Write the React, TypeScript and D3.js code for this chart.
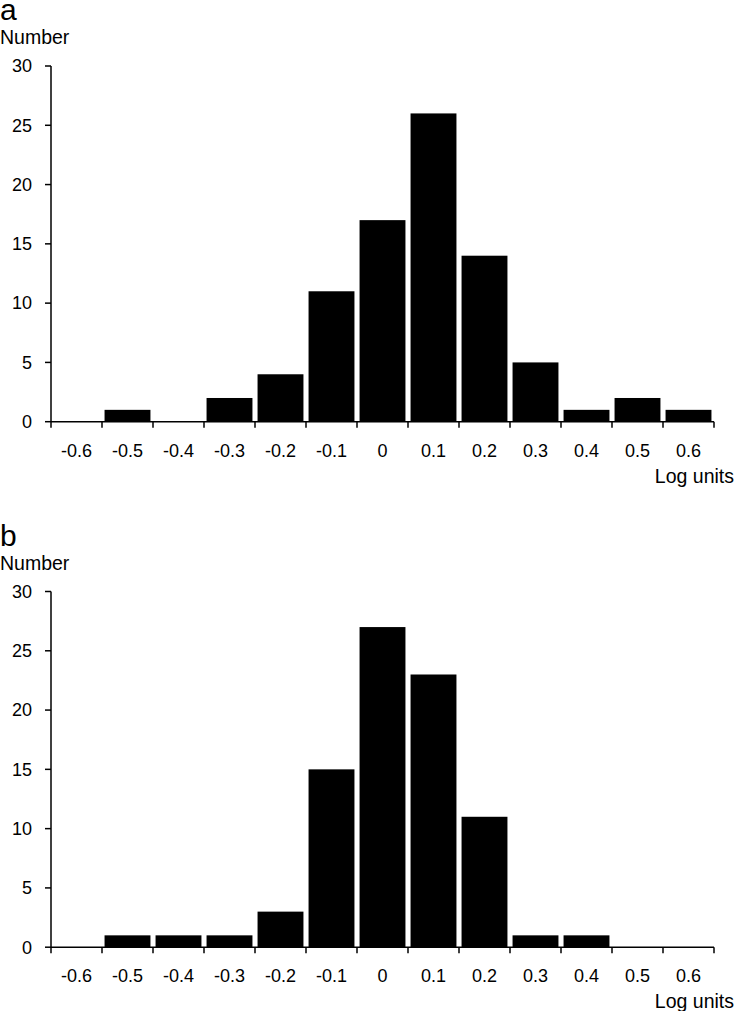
import React from "react";
import * as d3 from "d3";

const categories = ["-0.6", "-0.5", "-0.4", "-0.3", "-0.2", "-0.1", "0", "0.1", "0.2", "0.3", "0.4", "0.5", "0.6"];
const seriesA = [0, 1, 0, 2, 4, 11, 17, 26, 14, 5, 1, 2, 1];
const seriesB = [0, 1, 1, 1, 3, 15, 27, 23, 11, 1, 1, 0, 0];
const yTicks = [0, 5, 10, 15, 20, 25, 30];

const FONT = "'Liberation Sans', Arial, sans-serif";

function Panel({ letter, values, top }: { letter: string; values: number[]; top: number }) {
  const x0 = 51, x1 = 714;
  const yTop = top + 66, yBot = top + 421.7;
  const x = d3.scaleBand<string>().domain(categories).range([x0, x1]).paddingInner(0.1).paddingOuter(0.05);
  const step = (x1 - x0) / categories.length;
  const y = d3.scaleLinear().domain([0, 30]).range([yBot, yTop]);
  const bounds = d3.range(categories.length + 1).map((i) => x0 + i * step);
  return (
    <g>
      <text x={0} y={top + 20} fontSize={30} fontFamily={FONT}>{letter}</text>
      <text x={0} y={top + 44} fontSize={19.5} fontFamily={FONT}>Number</text>
      {values.map((v, i) =>
        v > 0 ? (
          <rect key={i} x={x(categories[i])} y={y(v)} width={x.bandwidth()} height={yBot - y(v)} fill="#000" />
        ) : null
      )}
      <line x1={x0} x2={x0} y1={yTop} y2={yBot} stroke="#000" strokeWidth={1.5} />
      <line x1={x0} x2={x1} y1={yBot} y2={yBot} stroke="#000" strokeWidth={1.5} />
      {yTicks.map((t) => (
        <g key={t}>
          <line x1={x0 - 6} x2={x0} y1={y(t)} y2={y(t)} stroke="#000" strokeWidth={1.5} />
          <text x={32} y={y(t)} dy="0.35em" textAnchor="end" fontSize={18} fontFamily={FONT}>{t}</text>
        </g>
      ))}
      {bounds.map((b, i) => (
        <line key={i} x1={b} x2={b} y1={yBot} y2={yBot + 6} stroke="#000" strokeWidth={1.5} />
      ))}
      {categories.map((c) => (
        <text key={c} x={(x(c) as number) + x.bandwidth() / 2} y={yBot + 35} textAnchor="middle" fontSize={18} fontFamily={FONT}>{c}</text>
      ))}
      <text x={734} y={yBot + 61} textAnchor="end" fontSize={19.5} fontFamily={FONT}>Log units</text>
    </g>
  );
}

export default function App() {
  return (
    <svg width={735} height={1011} style={{ position: "absolute", left: 0, top: 0, background: "#fff" }}>
      <rect width={735} height={1011} fill="#fff" />
      <Panel letter="a" values={seriesA} top={0} />
      <Panel letter="b" values={seriesB} top={525.5} />
    </svg>
  );
}
